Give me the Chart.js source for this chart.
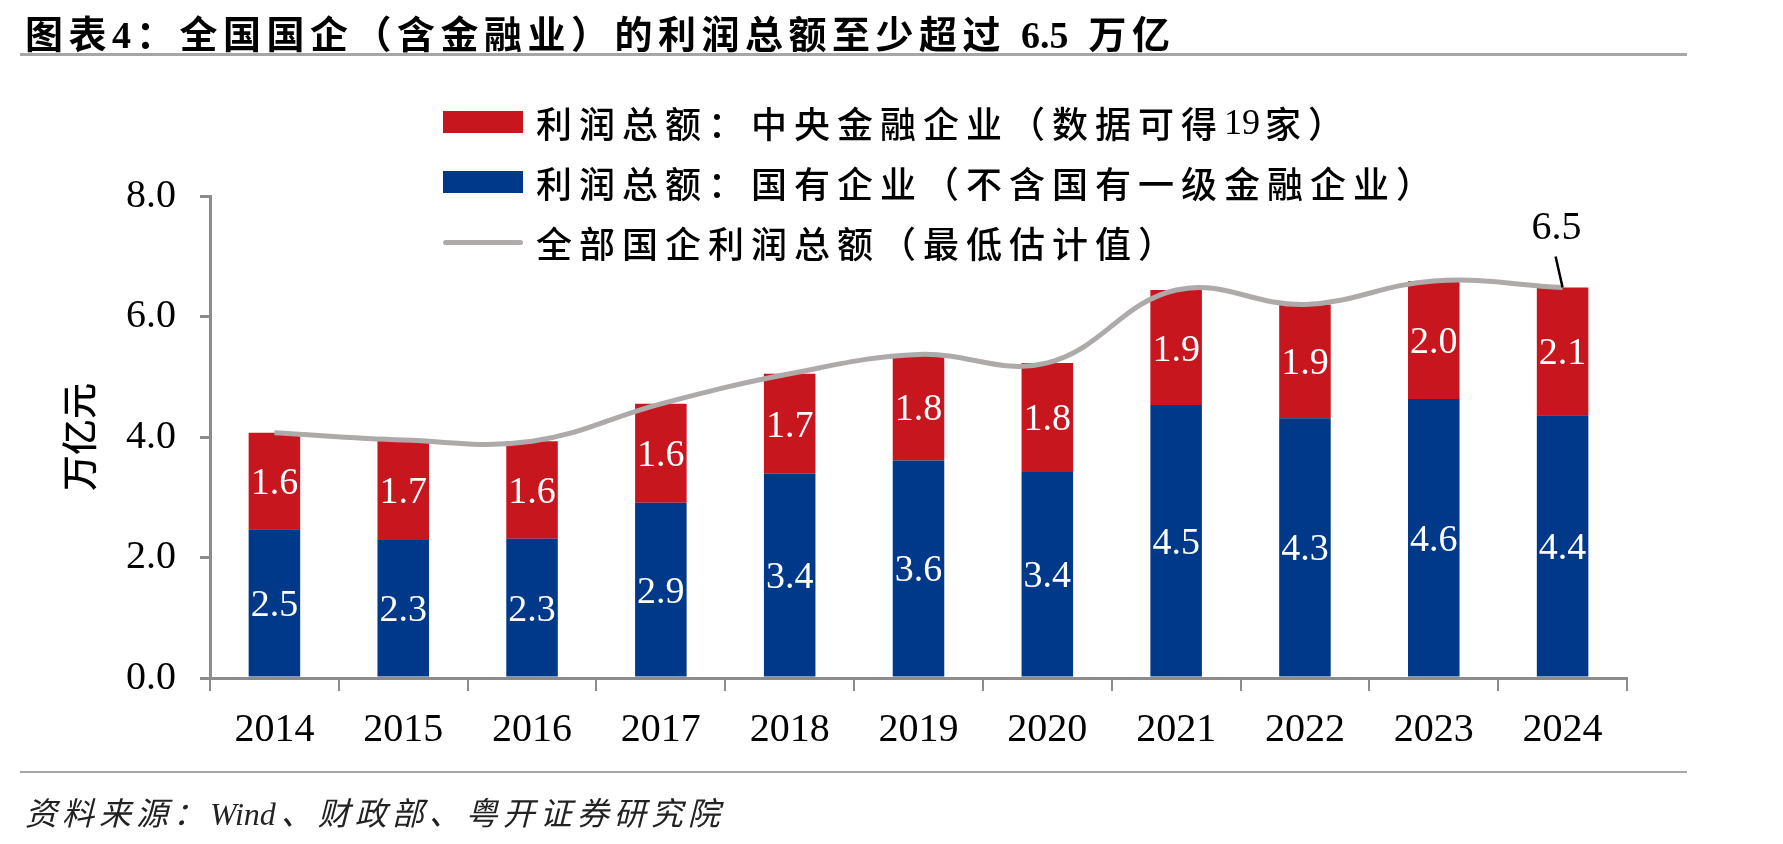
<!DOCTYPE html>
<html>
<head>
<meta charset="utf-8">
<script src="https://cdn.jsdelivr.net/npm/chart.js@4"></script>
<style>
  html, body { margin: 0; padding: 0; background: #fff; }
  #wrap { position: relative; width: 1783px; height: 844px; overflow: hidden; }
  #c { position: absolute; left: 0; top: 0; }
  .title { position: absolute; left: 25px; top: 4px; font: bold 38px "Liberation Serif", "Noto Sans CJK SC", serif; letter-spacing: 5.5px; color: #000; white-space: nowrap; }
  .rule { position: absolute; left: 20px; width: 1667px; height: 3px; background: #a6a6a6; }
  .source { position: absolute; left: 25px; top: 788px; font: italic 32px "Liberation Serif", "Noto Sans CJK SC", serif; letter-spacing: 5px; color: #222; white-space: nowrap; }
  .legend { position: absolute; left: 443px; font: 500 36px "Liberation Serif", "Noto Sans CJK SC", sans-serif; letter-spacing: 7px; color: #000; white-space: nowrap; }
  .legend div { height: 60px; display: flex; align-items: center; }
  .legend span.sw { display: inline-block; width: 80px; height: 22px; margin-right: 13px; }
  .legend span.ln { display: inline-block; width: 80px; height: 5px; margin-right: 13px; background: #aeaaaa; border-radius: 3px; }
  .lat { letter-spacing: 0; margin-right: 5px; }
</style>
</head>
<body>
<div id="wrap">
  <canvas id="c" width="1783" height="844"></canvas>
  <div class="title">图表<span class="lat">4</span>：全国国企（含金融业）的利润总额至少超过 <span class="lat">6.5</span> 万亿</div>
  <div class="rule" style="top:53px"></div>
  <div class="legend" style="top:92px">
    <div><span class="sw" style="background:#c8161e"></span>利润总额：中央金融企业（数据可得<span class="lat">19</span>家）</div>
    <div><span class="sw" style="background:#00388a"></span>利润总额：国有企业（不含国有一级金融企业）</div>
    <div><span class="ln"></span>全部国企利润总额（最低估计值）</div>
  </div>
  <div class="rule" style="top:771px; height:2px;"></div>
  <div class="source">资料来源：<span class="lat">Wind</span>、财政部、粤开证券研究院</div>
</div>
<script>
const years = ['2014', '2015', '2016', '2017', '2018', '2019', '2020', '2021', '2022', '2023', '2024'];
const soeProfit = [2.47, 2.29, 2.31, 2.91, 3.39, 3.61, 3.42, 4.53, 4.31, 4.63, 4.36];
const centralFinProfit = [1.60, 1.66, 1.62, 1.64, 1.66, 1.76, 1.81, 1.91, 1.89, 1.96, 2.12];
const totalProfit = [4.07, 3.95, 3.93, 4.55, 5.05, 5.37, 5.23, 6.44, 6.20, 6.59, 6.48];
const yTicks = [0, 2, 4, 6, 8];

const axisGray = '#8c8c8c';

// 柱内白色数值 + 末端 6.5 标注
const labels = {
  id: 'labels',
  afterDatasetsDraw(chart) {
    const { ctx } = chart;
    ctx.save();
    ctx.font = '38px "Liberation Serif", serif';
    ctx.fillStyle = '#fff';
    ctx.textAlign = 'center';
    ctx.textBaseline = 'middle';
    [1, 2].forEach(i => {
      const meta = chart.getDatasetMeta(i);
      meta.data.forEach((bar, j) => {
        const v = chart.data.datasets[i].data[j];
        ctx.fillText(v.toFixed(1), bar.x, (bar.y + bar.base) / 2 + 3);
      });
    });
    // 最后一个点的标注
    const lineMeta = chart.getDatasetMeta(0);
    const last = lineMeta.data[lineMeta.data.length - 1];
    ctx.strokeStyle = '#000';
    ctx.lineWidth = 2.5;
    ctx.beginPath();
    ctx.moveTo(last.x - 7, last.y - 31);
    ctx.lineTo(last.x, last.y);
    ctx.stroke();
    ctx.fillStyle = '#000';
    ctx.font = '40px "Liberation Serif", serif';
    ctx.fillText(totalProfit[totalProfit.length - 1].toFixed(1), last.x - 6, last.y - 59);
    ctx.restore();
  }
};

new Chart(document.getElementById('c'), {
  type: 'bar',
  data: {
    labels: years,
    datasets: [
      {
        type: 'line',
        label: '全部国企利润总额（最低估计值）',
        data: totalProfit,
        stack: 'line',
        borderColor: '#aeaaaa',
        borderWidth: 5,
        pointRadius: 0,
        tension: 0.4,
        fill: false,
        order: 0
      },
      {
        label: '利润总额：国有企业（不含国有一级金融企业）',
        data: soeProfit,
        stack: 'bars',
        backgroundColor: '#00388a',
        order: 1
      },
      {
        label: '利润总额：中央金融企业（数据可得19家）',
        data: centralFinProfit,
        stack: 'bars',
        backgroundColor: '#c8161e',
        order: 1
      }
    ]
  },
  options: {
    responsive: false,
    animation: false,
    events: [],
    categoryPercentage: 1,
    barPercentage: 0.4,
    layout: { padding: { top: 196, right: 156, bottom: 0, left: 0 } },
    plugins: {
      legend: { display: false },
      tooltip: { enabled: false }
    },
    scales: {
      x: {
        stacked: true,
        grid: { drawOnChartArea: false, tickLength: 13, color: axisGray, lineWidth: 2, offset: true },
        border: { color: axisGray, width: 3 },
        ticks: { color: '#000', padding: 15, maxRotation: 0, font: { family: 'Liberation Serif', size: 40 } },
        afterFit(scale) { scale.height = 166; }
      },
      y: {
        stacked: true,
        min: 0,
        max: 8,
        afterBuildTicks(scale) { scale.ticks = yTicks.map(v => ({ value: v })); },
        grid: { drawOnChartArea: false, tickLength: 10, color: axisGray, lineWidth: 3 },
        border: { color: axisGray, width: 3 },
        ticks: {
          color: '#000',
          padding: 24,
          font: { family: 'Liberation Serif', size: 40 },
          callback: v => v.toFixed(1)
        },
        title: {
          display: true,
          text: '万亿元',
          color: '#000',
          padding: { top: 58, bottom: 0 },
          font: { family: 'Noto Sans CJK SC', size: 36, weight: '500' }
        },
        afterFit(scale) { scale.width = 210; }
      }
    }
  },
  plugins: [labels]
});
</script>
</body>
</html>
